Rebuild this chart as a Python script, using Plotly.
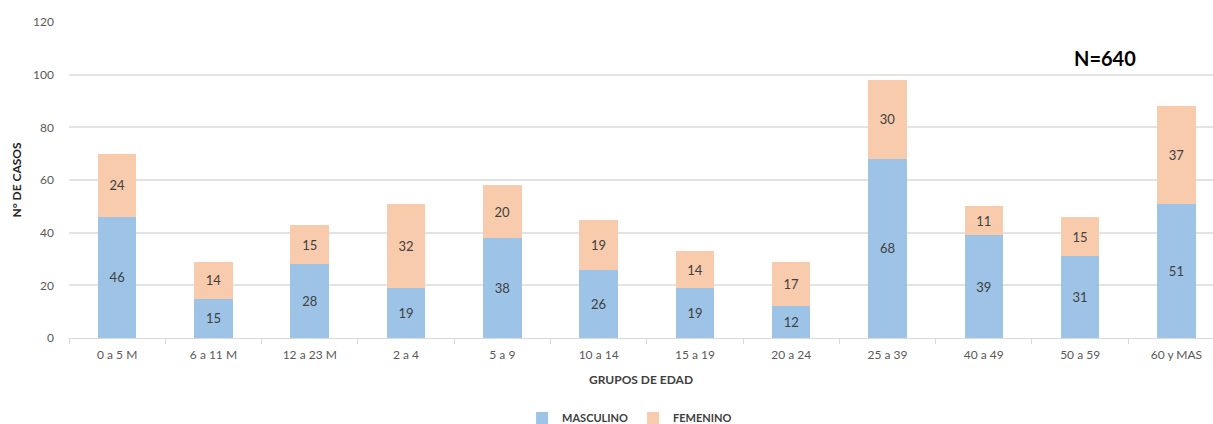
import plotly.graph_objects as go

grupos = ["0 a 5 M", "6 a 11 M", "12 a 23 M", "2 a 4", "5 a 9", "10 a 14",
          "15 a 19", "20 a 24", "25 a 39", "40 a 49", "50 a 59", "60 y MAS"]
masculino = [46, 15, 28, 19, 38, 26, 19, 12, 68, 39, 31, 51]
femenino = [24, 14, 15, 32, 20, 19, 14, 17, 30, 11, 15, 37]
y_ticks = [0, 20, 40, 60, 80, 100, 120]

FONT = "Lato, 'Open Sans', sans-serif"

fig = go.Figure()
for name, vals, color in [("MASCULINO", masculino, "#9dc3e6"),
                          ("FEMENINO", femenino, "#f8cbad")]:
    fig.add_trace(go.Bar(
        x=grupos, y=vals, name="<b>" + name + "</b>",
        marker=dict(color=color, line=dict(width=0)),
        text=vals, textposition="inside", insidetextanchor="middle",
        textfont=dict(size=13, color="#404040", family=FONT),
        width=0.4,
    ))

# plot area in pixels: x 69..1213, y 22..338
fig.add_annotation(
    text="<b>N=640</b>", x=(1105 - 69) / (1213 - 69), y=(338 - 58) / 316,
    xref="paper", yref="paper", xanchor="center", yanchor="middle", showarrow=False,
    font=dict(size=20, color="black", family=FONT),
)

fig.update_layout(
    barmode="stack",
    width=1213, height=424,
    margin=dict(l=69, r=0, t=22, b=86),
    plot_bgcolor="white", paper_bgcolor="white",
    font=dict(family=FONT, size=12, color="#595959"),
    showlegend=True,
    legend=dict(orientation="h", x=0.49, xanchor="center", yref="container",
                y=0.014, yanchor="middle",
                font=dict(size=11, color="#404040"), itemwidth=30,
                traceorder="normal"),
    xaxis=dict(
        range=[-0.5, 11.38], showline=True, linecolor="#d9d9d9", linewidth=1,
        ticks="outside", tickson="boundaries", ticklen=5, tickcolor="#d9d9d9",
        ticklabelstandoff=6, automargin=False,
        title=dict(text="<b>GRUPOS DE EDAD</b>", standoff=14,
                   font=dict(size=12, color="#404040")),
        tickfont=dict(size=12, color="#595959"),
    ),
    yaxis=dict(
        range=[0, 120], tickvals=y_ticks, showgrid=True, gridcolor="#e3e3e3",
        gridwidth=1.5, zeroline=False, ticks="", ticklabelstandoff=14,
        automargin=False,
        title=dict(text="<b>N° DE CASOS</b>", standoff=8,
                   font=dict(size=12, color="#262626")),
        tickfont=dict(size=12, color="#595959"),
    ),
)

fig.write_html("out.html", config={"displayModeBar": False},
               post_script="document.body.style.margin='0';"
                           "document.body.style.overflow='hidden';")
